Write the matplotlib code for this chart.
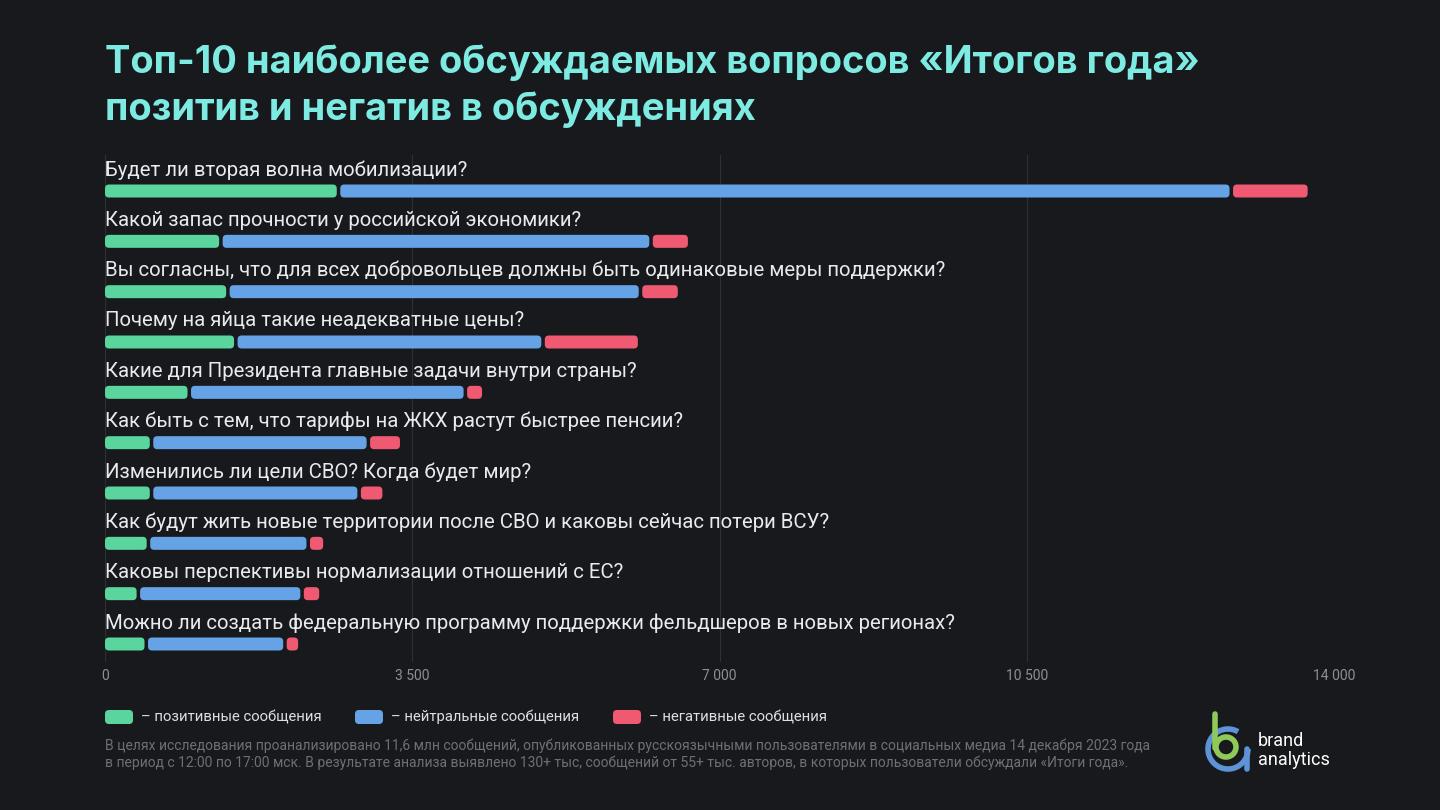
import matplotlib
matplotlib.use("Agg")
import matplotlib.pyplot as plt
from matplotlib.patches import FancyBboxPatch, Arc, Circle
import numpy as np

# ---- data -------------------------------------------------------------
questions = [
    "Будет ли вторая волна мобилизации?",
    "Какой запас прочности у российской экономики?",
    "Вы согласны, что для всех добровольцев должны быть одинаковые меры поддержки?",
    "Почему на яйца такие неадекватные цены?",
    "Какие для Президента главные задачи внутри страны?",
    "Как быть с тем, что тарифы на ЖКХ растут быстрее пенсии?",
    "Изменились ли цели СВО? Когда будет мир?",
    "Как будут жить новые территории после СВО и каковы сейчас потери ВСУ?",
    "Каковы перспективы нормализации отношений с ЕС?",
    "Можно ли создать федеральную программу поддержки фельдшеров в новых регионах?",
]
positive = [2660, 1320, 1400, 1490, 960, 530, 530, 495, 380, 470]
neutral = [10170, 4900, 4700, 3500, 3145, 2470, 2365, 1820, 1865, 1580]
negative = [870, 420, 425, 1080, 190, 360, 265, 170, 195, 150]

series_names = ["– позитивные сообщения", "– нейтральные сообщения", "– негативные сообщения"]
xticks = [0, 3500, 7000, 10500, 14000]
xtick_labels = ["0", "3 500", "7 000", "10 500", "14 000"]

title = "Топ-10 наиболее обсуждаемых вопросов «Итогов года»\nпозитив и негатив в обсуждениях"
footnote = ("В целях исследования проанализировано 11,6 млн сообщений, опубликованных русскоязычными "
            "пользователями в социальных медиа 14 декабря 2023 года\n"
            "в период с 12:00 по 17:00 мск. В результате анализа выявлено 130+ тыс, сообщений от 55+ тыс. "
            "авторов, в которых пользователи обсуждали «Итоги года».")

# ---- style ------------------------------------------------------------
BG = "#17191d"
COLORS = ["#5bd59e", "#66a2e6", "#ef5a72"]
TITLE_C = "#7eebe2"
FONT = ["Roboto", "DejaVu Sans"]

W, H = 1440, 810
fig = plt.figure(figsize=(W / 100, H / 100), dpi=100, facecolor=BG)

# decoration layer in pixel coordinates
deco = fig.add_axes([0, 0, 1, 1], zorder=0)
deco.set_xlim(0, W)
deco.set_ylim(H, 0)
deco.axis("off")
deco.set_facecolor(BG)

# main chart axes
ax_l, ax_r, ax_t, ax_b = 105, 1334, 155, 662
ax = fig.add_axes([ax_l / W, 1 - ax_b / H, (ax_r - ax_l) / W, (ax_b - ax_t) / H], zorder=1)
ax.patch.set_alpha(0)
n = len(questions)
ax.set_xlim(0, 14000)
row_px = 50.33
ax.set_ylim(n - 1 + 18 / row_px, -36 / row_px)
for s in ax.spines.values():
    s.set_visible(False)
ax.set_yticks([])
ax.set_xticks(xticks)
ax.set_xticklabels(xtick_labels, family=FONT, fontsize=10, color="#8c9096")
ax.tick_params(axis="x", length=0, pad=5)
ax.grid(axis="x", color="#2d3035", linewidth=0.8)
ax.set_axisbelow(True)

# pixel -> data conversions
x_per_px = 14000 / (ax_r - ax_l)
y_per_px = (ax.get_ylim()[0] - ax.get_ylim()[1]) / (ax_b - ax_t)
aspect = y_per_px / x_per_px
bar_h = 13 * y_per_px
gap = 3.5 * x_per_px
radius = 4 * x_per_px

data = np.array([positive, neutral, negative])
starts = np.vstack([np.zeros(n), np.cumsum(data, axis=0)[:-1]])
for i in range(n):
    for j in range(3):
        x0 = starts[j, i] + (gap / 2 if j > 0 else 0)
        x1 = starts[j, i] + data[j, i] - (gap / 2 if j < 2 else 0)
        ax.add_patch(FancyBboxPatch(
            (x0, i - bar_h / 2), x1 - x0, bar_h,
            boxstyle=f"round,pad=0,rounding_size={radius}",
            mutation_aspect=aspect, facecolor=COLORS[j], edgecolor="none", zorder=3))
    ax.text(0, i - 21 / row_px, questions[i], family=FONT, fontsize=14.7,
            color="#e9eaec", va="center", ha="left")

# title
deco.text(105, 86, title, family=["Inter", "DejaVu Sans"], fontweight="bold", fontsize=27.4,
          color=TITLE_C, va="center", ha="left", linespacing=1.34)

# legend
leg_x = [105, 355, 613]
for j, name in enumerate(series_names):
    deco.add_patch(FancyBboxPatch((leg_x[j], 710), 28, 14,
                                  boxstyle="round,pad=0,rounding_size=4",
                                  facecolor=COLORS[j], edgecolor="none"))
    deco.text(leg_x[j] + 36, 717, name, family=FONT, fontsize=10.7,
              color="#dcdee1", va="center", ha="left")

# footnote
deco.text(105, 754, footnote, family=FONT, fontsize=10, color="#6c7077",
          va="center", ha="left", linespacing=1.25)

# logo
deco.add_patch(Arc((1228, 749), 40, 40, theta1=0, theta2=300, color="#5f93d8", lw=4))
deco.plot([1247, 1247], [749, 769], color="#5f93d8", lw=4, solid_capstyle="round")
deco.add_patch(Circle((1226, 747), 10, fill=False, edgecolor="#8fc95a", lw=4))
deco.plot([1215, 1215], [714, 748], color="#8fc95a", lw=4, solid_capstyle="round")
deco.text(1258, 741, "brand", family=FONT, fontsize=13, color="white", va="center", ha="left")
deco.text(1258, 760, "analytics", family=FONT, fontsize=13, color="white", va="center", ha="left")

fig.savefig("out.png", dpi=100, facecolor=BG)
